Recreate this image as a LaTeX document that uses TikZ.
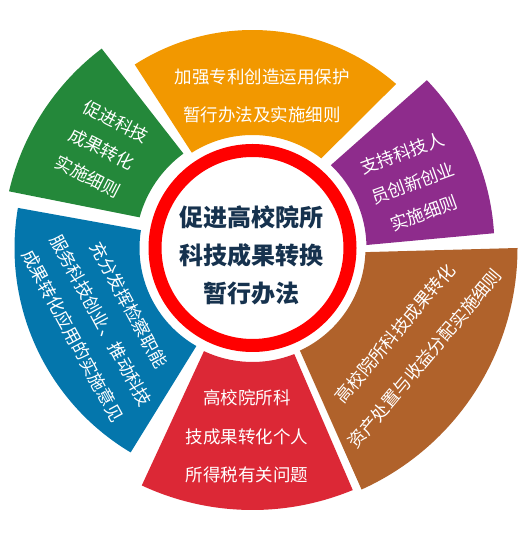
\documentclass[tikz,border=0pt]{standalone}
\usepackage{fontspec}
\newfontfamily\cjk{Noto Sans CJK SC}
\usetikzlibrary{calc}
\definecolor{cOrange}{RGB}{242,152,0}
\definecolor{cPurple}{RGB}{142,44,140}
\definecolor{cBrown}{RGB}{176,98,43}
\definecolor{cRed}{RGB}{220,40,54}
\definecolor{cBlue}{RGB}{4,118,172}
\definecolor{cGreen}{RGB}{36,136,58}
\definecolor{cNavy}{RGB}{22,50,78}
% #1 colour, #2 inner r, #3 outer r, #4/#5 inner start/end angle, #6/#7 outer start/end angle
\newcommand\mysector[7]{%
  \fill[#1] ($(C)+(#4:#2pt)$) arc[start angle=#4,end angle=#5,radius=#2pt]
    -- ($(C)+(#7:#3pt)$) arc[start angle=#7,end angle=#6,radius=#3pt] -- cycle;}
\begin{document}
\begin{tikzpicture}[x=1pt,y=1pt,
  sectortext/.style={text=white,align=center,inner sep=0pt,
    font=\cjk\fontsize{17.5}{32}\selectfont},
  centertext/.style={text=cNavy,align=center,inner sep=0pt,
    font=\cjk\bfseries\fontsize{24}{38}\selectfont}]
\useasboundingbox (0,0) rectangle (523,545);
\coordinate (C) at (252.5,297);
% sectors
\mysector{cOrange}{113}{218}{52.5}{122.5}{48.8}{122.7}
\mysector{cPurple}{114}{242}{1.5}{46.6}{3.5}{43.9}
\mysector{cBrown}{113}{265}{-65.2}{-2.1}{-65.7}{0}
\mysector{cRed}{114}{262}{244.8}{291.5}{245}{292.5}
\mysector{cBlue}{113}{238}{170.9}{240.2}{170.3}{239.2}
\mysector{cGreen}{117}{250}{126.2}{164.8}{127.1}{166.9}
% centre ring
\draw[red,line width=13pt,fill=white] (C) circle[radius=97.5pt];
% texts
\node[centertext] (tc) at (251.5,290) {促进高校院所\\科技成果转换\\暂行办法};
\node[sectortext,font=\cjk\fontsize{17.5}{38}\selectfont] (to) at (262,449) {加强专利创造运用保护\\暂行办法及实施细则};
\node[sectortext,rotate=20] (tp) at (413,362) {支持科技人\\员创新创业\\实施细则};
\node[sectortext,rotate=50,font=\cjk\fontsize{17.5}{39}\selectfont] (tb) at (410,199) {高校院所科技成果转化\\资产处置与收益分配实施细则};
\node[sectortext,font=\cjk\fontsize{17.5}{38.5}\selectfont] (tr) at (247,108.3) {高校院所科\\技成果转化个人\\所得税有关问题};
\node[sectortext,rotate=-61.5] (tl) at (101,224.5) {充分发挥检察职能\\服务科技创业、推动科技\\成果转化应用的实施意见};
\node[sectortext,rotate=-27,font=\cjk\fontsize{17.5}{31}\selectfont] (tg) at (102,396) {促进科技\\成果转化\\实施细则};
\end{tikzpicture}
\end{document}
